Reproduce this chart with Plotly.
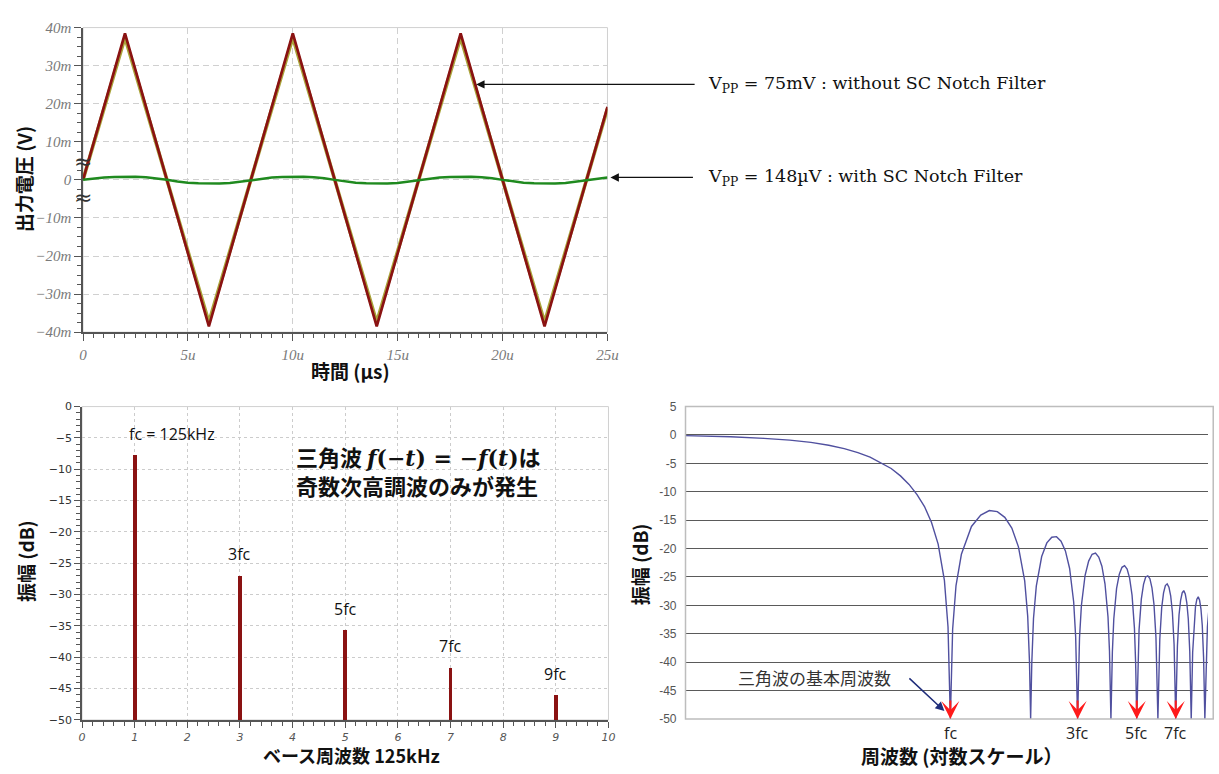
import math
import plotly.graph_objects as go

W, H = 1219, 774


def px(x):
    return x / W


def py(y):
    return 1 - y / H


# ---------------- top chart: output voltage vs time (values in mV, time in µs) ----------------
t_tri = [0, 2, 6, 10, 14, 18, 22, 25]
v_tri = [0, 38.5, -38.5, 38.5, -38.5, 38.5, -38.5, 19.2]            # without SC notch filter
v_tri_shadow = [0, 37.4, -37.4, 37.4, -37.4, 37.4, -37.4, 18.7]     # olive trace under it

t_green = [0, 0.5, 1, 1.5, 2, 2.5, 3, 3.5, 4, 4.5, 5, 5.5, 6, 6.5, 7, 7.5, 8, 8.5, 9, 9.5,
           10, 10.5, 11, 11.5, 12, 12.5, 13, 13.5, 14, 14.5, 15, 15.5, 16, 16.5, 17, 17.5,
           18, 18.5, 19, 19.5, 20, 20.5, 21, 21.5, 22, 22.5, 23, 23.5, 24, 24.5, 25]
v_green = [0.0, 0.35, 0.6, 0.75, 0.8, 0.8, 0.7, 0.45, 0.05, -0.4, -0.75, -0.9, -0.95, -0.95,
           -0.85, -0.5, -0.05, 0.35, 0.6, 0.75, 0.8, 0.8, 0.7, 0.45, 0.0, -0.4, -0.75, -0.9,
           -0.95, -0.95, -0.85, -0.5, -0.05, 0.35, 0.6, 0.75, 0.8, 0.8, 0.7, 0.45, 0.0, -0.4,
           -0.75, -0.9, -0.95, -0.95, -0.85, -0.5, -0.05, 0.35, 0.6]

time_tickvals = [0, 5, 10, 15, 20, 25]
time_ticktext = ["0", "5u", "10u", "15u", "20u", "25u"]
volt_tickvals = [-40, -30, -20, -10, 0, 10, 20, 30, 40]
volt_ticktext = ["−40m", "−30m", "−20m", "−10m", "0", "10m", "20m", "30m", "40m"]

# ---------------- bottom-left: harmonic spectrum ----------------
harmonic_n = [1, 3, 5, 7, 9]
harmonic_db = [-7.7, -26.9, -35.6, -41.6, -46.0]
harmonic_labels = ["fc = 125kHz", "3fc", "5fc", "7fc", "9fc"]
DB_FLOOR = -50

# ---------------- bottom-right: sinc response on log frequency axis ----------------
f_ratio = [0.1, 0.15, 0.2, 0.25, 0.3, 0.35, 0.4, 0.45, 0.5, 0.55, 0.6, 0.65, 0.7, 0.75, 0.8, 0.85,
           0.9, 0.95, 0.98, 1.0,
           1.02, 1.05, 1.1, 1.2, 1.3, 1.4, 1.5, 1.6, 1.7, 1.8, 1.9, 1.95, 1.98, 2.0,
           2.02, 2.05, 2.1, 2.2, 2.3, 2.4, 2.5, 2.6, 2.7, 2.8, 2.9, 2.95, 2.98, 3.0,
           3.05, 3.1, 3.2, 3.3, 3.4, 3.5, 3.6, 3.7, 3.8, 3.9, 3.95, 4.0,
           4.05, 4.1, 4.2, 4.3, 4.4, 4.5, 4.6, 4.7, 4.8, 4.9, 4.95, 5.0,
           5.1, 5.2, 5.3, 5.4, 5.5, 5.6, 5.7, 5.8, 5.9, 6.0,
           6.1, 6.2, 6.3, 6.4, 6.5, 6.6, 6.7, 6.8, 6.9, 7.0,
           7.1, 7.2, 7.3, 7.4, 7.5, 7.6, 7.7, 7.8, 7.9, 8.0,
           8.1, 8.2, 8.3, 8.4, 8.5, 8.6, 8.7, 8.8, 8.9, 9.0,
           9.1, 9.2, 9.3]
response_db = [-0.1, -0.3, -0.6, -0.9, -1.3, -1.8, -2.4, -3.1, -3.9, -4.9, -5.9, -7.2, -8.7, -10.5,
               -12.6, -15.4, -19.2, -25.6, -33.8, -50,
               -34.2, -26.5, -21.0, -16.1, -14.1, -13.3, -13.5, -14.5, -16.4, -19.7, -25.7, -31.9, -39.9, -50,
               -40.1, -32.3, -26.6, -21.4, -19.0, -18.0, -17.9, -18.7, -20.4, -23.5, -29.4, -35.5, -43.5, -50,
               -35.7, -30.0, -24.7, -22.2, -21.0, -20.8, -21.5, -23.1, -26.2, -32.0, -38.0, -50,
               -38.2, -32.4, -27.0, -24.5, -23.3, -23.0, -23.6, -25.2, -28.2, -34.0, -40.0, -50,
               -34.3, -28.9, -26.3, -25.0, -24.8, -25.3, -26.9, -29.8, -35.6, -50,
               -35.9, -30.4, -27.8, -26.5, -26.2, -26.8, -28.3, -31.2, -36.9, -50,
               -37.2, -31.7, -29.1, -27.8, -27.4, -28.0, -29.5, -32.4, -38.1, -50,
               -38.3, -32.8, -30.2, -28.9, -28.5, -29.1, -30.6, -33.5, -39.1, -50,
               -39.3, -33.8, -31.2]
marked_harmonics = [1, 3, 5, 7]
marked_labels = ["fc", "3fc", "5fc", "7fc"]
resp_tickvals = [5, 0, -5, -10, -15, -20, -25, -30, -35, -40, -45, -50]
resp_ticktext = ["5", "0", "-5", "-10", "-15", "-20", "-25", "-30", "-35", "-40", "-45", "-50"]

# ---------------- figure ----------------
fig = go.Figure()

fig.add_trace(go.Scatter(x=t_tri, y=v_tri_shadow, mode="lines",
                         line=dict(color="#a9a43a", width=3.6), xaxis="x", yaxis="y"))
fig.add_trace(go.Scatter(x=t_tri, y=v_tri, mode="lines",
                         line=dict(color="#8a1212", width=2.7), xaxis="x", yaxis="y"))
fig.add_trace(go.Scatter(x=t_green, y=v_green, mode="lines",
                         line=dict(color="#1f8a1f", width=2.5), xaxis="x", yaxis="y"))

fig.add_trace(go.Bar(x=harmonic_n, y=[d - DB_FLOOR for d in harmonic_db], base=DB_FLOOR,
                     width=0.075, marker=dict(color="#8a1212", line=dict(width=0)),
                     xaxis="x2", yaxis="y2"))

fig.add_trace(go.Scatter(x=f_ratio, y=response_db, mode="lines",
                         line=dict(color="#50509f", width=1.4), xaxis="x3", yaxis="y3"))

axis_dark = "#555555"
serif_ticks = dict(family="Liberation Serif", size=15, color="#7a7a7a", style="italic")

fig.update_layout(
    width=W, height=H, autosize=False,
    margin=dict(l=0, r=0, t=0, b=0),
    paper_bgcolor="white", plot_bgcolor="white",
    showlegend=False,
    xaxis=dict(domain=[px(80), px(611)], anchor="y", range=[0, 25],
               tickmode="array", tickvals=time_tickvals, ticktext=time_ticktext,
               ticks="outside", ticklen=7, tickcolor=axis_dark, tickwidth=1,
               showline=True, linecolor=axis_dark, linewidth=1.5,
               showgrid=True, gridcolor="#d0d0d0", griddash="6px,4px", zeroline=False,
               tickfont=serif_ticks, ticklabelstandoff=1,
               minor=dict(tickmode="linear", tick0=0, dtick=0.5, ticks="outside", ticklen=4,
                          tickcolor=axis_dark, showgrid=False)),
    yaxis=dict(domain=[py(331), py(20)], anchor="x", range=[-40, 40],
               tickmode="array", tickvals=volt_tickvals, ticktext=volt_ticktext,
               ticks="outside", ticklen=7, tickcolor=axis_dark,
               showline=True, linecolor=axis_dark, linewidth=1.5,
               showgrid=True, gridcolor="#d0d0d0", griddash="6px,4px", zeroline=False,
               tickfont=serif_ticks,
               minor=dict(tickmode="linear", tick0=0, dtick=2.5, ticks="outside", ticklen=4,
                          tickcolor=axis_dark, showgrid=False)),
    xaxis2=dict(domain=[px(79), px(612)], anchor="y2", range=[0, 10],
                tickmode="linear", tick0=0, dtick=1,
                ticks="outside", ticklen=6, tickcolor=axis_dark,
                showline=True, linecolor=axis_dark, linewidth=1.5,
                showgrid=True, gridcolor="#cccccc", griddash="3px,3px", zeroline=False,
                tickfont=dict(family="DejaVu Sans", size=11, color="#555", style="italic"),
                ticklabelstandoff=0,
                minor=dict(tickmode="linear", tick0=0, dtick=0.2, ticks="outside", ticklen=4,
                           tickcolor=axis_dark, showgrid=False)),
    yaxis2=dict(domain=[py(727), py(407)], anchor="x2", range=[-50, 0],
                tickmode="linear", tick0=0, dtick=5,
                ticks="outside", ticklen=6, tickcolor=axis_dark,
                showline=True, linecolor=axis_dark, linewidth=1.5,
                showgrid=True, gridcolor="#cccccc", griddash="3px,3px", zeroline=False,
                tickfont=dict(family="DejaVu Sans", size=11, color="#333"),
                minor=dict(tickmode="linear", tick0=0, dtick=1, ticks="outside", ticklen=4,
                           tickcolor=axis_dark, showgrid=False)),
    xaxis3=dict(domain=[px(690), 1.0], anchor="y3", type="log", range=[-0.993, 0.966],
                showticklabels=False, ticks="", showgrid=False, zeroline=False, showline=False),
    yaxis3=dict(domain=[py(726), py(407)], anchor="x3", range=[-50, 5],
                tickmode="array", tickvals=resp_tickvals, ticktext=resp_ticktext,
                ticks="", showline=False, zeroline=False,
                showgrid=True, gridcolor="#5a5a5a", gridwidth=1.2,
                tickfont=dict(family="Liberation Sans", size=12, color="#555"),
                ticklabelstandoff=8),
    bargap=0,
)

shapes = [
    dict(type="rect", xref="x domain", yref="y domain", x0=0, x1=1, y0=0, y1=1,
         line=dict(color="#d0d0d0", width=1), layer="below"),
    dict(type="rect", xref="x2 domain", yref="y2 domain", x0=0, x1=1, y0=0, y1=1,
         line=dict(color="#d0d0d0", width=1), layer="below"),
    dict(type="rect", xref="x3 domain", yref="y3 domain", x0=0, x1=1.01, y0=0, y1=1,
         line=dict(color="#bdbdbd", width=1.5), layer="above"),
]
fig.update_layout(shapes=shapes)

cjk = "Noto Sans CJK JP"
ann = []


def label(x, y, text, size=19, angle=0, color="#111", family=cjk, xanchor="center"):
    return dict(xref="paper", yref="paper", x=px(x), y=py(y), text=text, textangle=angle,
                xanchor=xanchor, yanchor="middle", showarrow=False,
                font=dict(family=family, size=size, color=color))


# axis titles
ann.append(label(20, 175, "<b>出力電圧 (V)</b>", angle=-90))
ann.append(label(351, 370, "<b>時間 (µs)</b>"))
ann.append(label(22, 565, "<b>振幅 (dB)</b>", angle=-90))
ann.append(label(352, 763, "<b>ベース周波数 125kHz</b>", size=18))
ann.append(label(643, 568, "<b>振幅 (dB)</b>", angle=-90))
ann.append(label(970, 763, "<b>周波数 (対数スケール）</b>"))

# axis break marks on top chart
for yy in (157, 193):
    ann.append(label(80, yy, "≈", size=22, color="#333", family="DejaVu Sans"))

# top chart callouts
serif = "DejaVu Serif"
ann.append(label(711, 78, "V<sub>PP</sub> = 75mV : without SC Notch Filter", size=17.5,
                 family=serif, xanchor="left"))
ann.append(label(711, 173, "V<sub>PP</sub> = 148µV : with SC Notch Filter", size=17.5,
                 family=serif, xanchor="left"))
for head_x, head_y in ((478, 78), (614, 173)):
    ann.append(dict(xref="paper", yref="paper", x=px(head_x), y=py(head_y),
                    axref="pixel", ayref="pixel", ax=698 - head_x, ay=0,
                    text="", showarrow=True, arrowhead=2, arrowsize=1.3, arrowwidth=1.3,
                    arrowcolor="#111"))

# harmonic labels
for i, (n, d, lab) in enumerate(zip(harmonic_n, harmonic_db, harmonic_labels)):
    ann.append(dict(xref="x2", yref="y2", x=n, y=d, text=lab, showarrow=False,
                    xanchor="left" if i == 0 else "center", yanchor="bottom",
                    xshift=-8 if i == 0 else 0, yshift=8,
                    font=dict(family="Open Sans", size=16, color="#111")))

math_txt = "<span style='font-family:DejaVu Serif'><i>f</i>(−<i>t</i>) = −<i>f</i>(<i>t</i>)</span>"
ann.append(label(294, 457, "<b>三角波 " + math_txt + "は</b>", size=22, xanchor="left"))
ann.append(label(294, 487, "<b>奇数次高調波のみが発生</b>", size=22, xanchor="left"))

# bottom-right annotations
for n, lab in zip(marked_harmonics, marked_labels):
    ann.append(dict(xref="x3", yref="y3", x=math.log10(n), y=-50, axref="x3", ayref="y3",
                    ax=math.log10(n), ay=-46.5, text="", showarrow=True, arrowhead=3,
                    arrowsize=1.5, arrowwidth=2, arrowcolor="#ff1a1a"))
    ann.append(dict(xref="x3", yref="paper", x=math.log10(n), y=py(740), text=lab, showarrow=False,
                    xanchor="center", yanchor="middle",
                    font=dict(family="Open Sans", size=16, color="#222")))

ann.append(label(821, 684, "三角波の基本周波数", size=17, color="#333", family=cjk))
ann.append(dict(xref="x3", yref="y3", x=math.log10(0.95), y=-48.6, axref="x3", ayref="y3",
                ax=math.log10(0.693), ay=-42.6, text="", showarrow=True, arrowhead=2,
                arrowsize=1.2, arrowwidth=1.5, arrowcolor="#1f2d7a"))

fig.update_layout(annotations=ann)

fig.write_html("out.html", config={"displayModeBar": False})
